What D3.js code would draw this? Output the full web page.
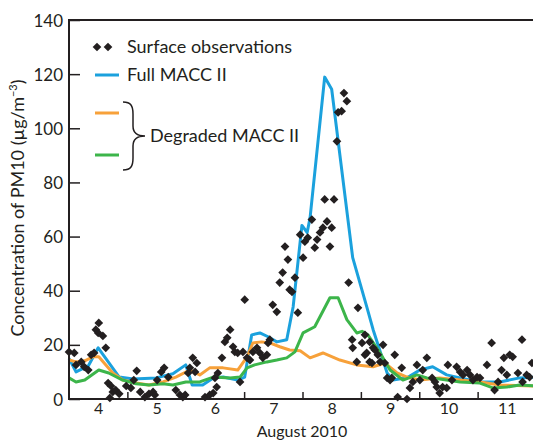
<!DOCTYPE html>
<html>
<head>
<meta charset="utf-8">
<script src="https://cdn.jsdelivr.net/npm/d3@7"></script>
<style>
  body { margin: 0; background: #fff; }
  text { font-family: Lato, "Open Sans", sans-serif; fill: #231f20; }
</style>
</head>
<body>
<script>
// observations: [day of August, PM10]
var obs = [
  [3.50,17.4],[3.59,17.0],[3.62,12.6],[3.71,13.7],[3.76,11.9],[3.83,10.7],[3.88,16.3],[3.93,17.0],
  [3.96,25.6],[4.01,28.1],[4.00,24.4],[4.08,23.3],[4.13,18.9],[4.17,5.9],[4.22,4.8],[4.25,2.6],
  [4.20,0.4],[4.30,3.3],[4.36,1.9],[4.48,4.8],[4.56,4.1],[4.61,7.0],[4.66,10.4],[4.72,2.6],
  [4.80,0.7],[4.87,1.9],[4.94,2.6],[4.97,1.5],[5.01,7.0],[5.08,10.0],[5.13,11.5],[5.20,8.1],
  [5.33,3.3],[5.40,1.5],[5.45,0.7],[5.49,1.5],[5.54,9.6],[5.57,11.5],[5.62,15.2],[5.69,13.3],
  [5.66,10.0],[5.83,0.7],[5.91,1.5],[5.97,2.2],[6.00,7.8],[6.03,4.4],[6.05,9.6],[6.12,15.2],
  [6.17,21.1],[6.21,22.6],[6.26,25.6],[6.31,19.3],[6.34,17.4],[6.39,17.0],[6.43,6.3],[6.48,17.4],
  [6.51,36.7],[6.55,15.2],[6.60,14.4],[6.65,17.4],[6.72,18.9],[6.77,17.0],[6.82,15.2],[6.89,16.3],
  [6.91,20.7],[6.94,21.9],[6.99,34.8],[7.06,32.2],[7.11,43.0],[7.16,46.7],[7.20,56.3],[7.25,51.5],
  [7.28,40.4],[7.32,39.6],[7.37,44.8],[7.42,31.9],[7.46,60.7],[7.51,52.2],[7.54,58.1],[7.59,59.6],
  [7.66,66.3],[7.71,55.9],[7.75,58.9],[7.80,61.5],[7.85,63.3],[7.92,65.6],[8.00,63.3],[7.97,56.3],
  [7.88,73.7],[8.04,73.7],[8.09,95.2],[8.11,105.9],[8.17,106.3],[8.21,113.0],[8.26,110.0],[8.29,43.0],
  [8.45,33.7],[8.35,21.9],[8.36,18.9],[8.43,13.7],[8.52,20.7],[8.57,23.7],[8.65,21.1],[8.71,18.9],
  [8.57,16.3],[8.60,17.0],[8.65,13.7],[8.69,13.3],[8.74,18.1],[8.79,16.3],[8.88,20.0],[8.83,13.7],
  [8.91,13.3],[8.95,7.8],[9.00,7.0],[9.03,7.8],[9.08,16.3],[9.13,0.7],[9.20,11.5],[9.29,0.0],
  [9.34,4.1],[9.39,6.3],[9.46,12.6],[9.51,7.0],[9.56,10.7],[9.63,15.2],[9.72,7.8],[9.77,6.3],
  [9.80,4.4],[9.85,2.2],[9.90,4.4],[9.97,4.1],[9.99,12.6],[10.06,7.0],[10.14,11.9],[10.20,10.0],
  [10.25,8.9],[10.32,10.7],[10.37,8.9],[10.42,7.0],[10.49,8.1],[10.54,7.8],[10.66,12.6],[10.74,20.7],
  [10.79,3.3],[10.85,6.3],[10.91,10.7],[10.95,15.2],[11.00,8.9],[11.05,16.3],[11.10,15.6],[11.19,9.6],
  [11.26,21.9],[11.27,6.3],[11.34,8.9],[11.39,8.1],[11.43,13.3]
];

var fullMacc = [
  [3.50,15.0],[3.62,10.0],[3.83,12.2],[4.00,18.9],[4.36,8.1],[4.60,7.4],[4.99,7.8],[5.28,9.3],
  [5.50,12.6],[5.61,5.2],[5.79,5.2],[5.97,7.8],[6.14,8.1],[6.39,7.0],[6.51,8.1],[6.63,23.7],
  [6.77,24.4],[6.91,23.0],[7.06,21.1],[7.23,21.9],[7.34,34.1],[7.49,64.1],[7.58,61.5],[7.63,67.0],
  [7.88,118.9],[8.00,114.4],[8.36,52.2],[8.60,34.1],[8.71,25.6],[8.95,9.6],[9.05,7.0],[9.29,7.8],
  [9.51,10.7],[9.73,11.9],[9.97,8.9],[10.20,7.8],[10.54,6.3],[10.88,6.3],[11.22,7.8],[11.50,8.1]
];

var degradedA = [
  [3.50,14.4],[3.62,13.7],[3.77,14.1],[3.91,15.6],[4.01,15.6],[4.25,9.6],[4.42,7.0],[4.65,5.9],
  [4.87,5.2],[5.11,6.3],[5.33,8.1],[5.57,10.7],[5.74,8.9],[5.91,11.5],[6.14,11.5],[6.39,10.7],
  [6.55,15.6],[6.65,20.7],[6.80,21.1],[6.94,20.7],[7.11,19.3],[7.28,18.1],[7.46,17.8],[7.63,15.2],
  [7.85,17.0],[8.14,14.4],[8.43,12.6],[8.71,11.9],[8.91,13.3],[9.12,9.6],[9.29,8.1],[9.51,7.0],
  [9.85,7.8],[10.20,7.0],[10.54,6.3],[10.88,5.2],[11.50,4.8]
];

var degradedB = [
  [3.50,7.8],[3.62,6.3],[3.77,7.0],[4.01,10.7],[4.18,9.6],[4.42,7.0],[4.65,5.6],[4.87,5.2],
  [5.11,5.6],[5.28,5.2],[5.50,6.3],[5.74,6.3],[5.97,8.1],[6.26,7.8],[6.43,8.1],[6.55,11.5],
  [6.68,12.6],[6.89,13.7],[7.06,14.4],[7.23,15.2],[7.37,17.4],[7.51,24.4],[7.71,26.7],[7.97,37.4],
  [8.11,37.4],[8.26,29.3],[8.43,24.4],[8.52,25.0],[8.62,23.7],[8.83,17.0],[9.00,10.7],[9.22,7.0],
  [9.46,8.9],[9.63,7.8],[9.85,7.4],[10.20,6.3],[10.54,5.9],[10.76,4.1],[11.00,4.4],[11.22,5.2],
  [11.50,4.8]
];

var dayLabels = [4, 5, 6, 7, 8, 9, 10, 11];
var dayTicks = [4.5, 5.5, 6.5, 7.5, 8.5, 9.5, 10.5];
var yTicks = [0, 20, 40, 60, 80, 100, 120, 140];

var W = 533, H = 441;
var M = { left: 69, right: -3, top: 20, bottom: 42 };

var svg = d3.select("body").append("svg")
    .attr("width", W)
    .attr("height", H);

var x = d3.scaleLinear().domain([3.5, 11.5]).range([M.left, W - M.right]);
var y = d3.scaleLinear().domain([0, 140]).range([H - M.bottom, M.top]);

var clr = { full: "#1ba1dd", degA: "#f7a13a", degB: "#3cb54a", ink: "#231f20" };

var line = d3.line()
    .x(function(d) { return x(d[0]); })
    .y(function(d) { return y(d[1]); });

var plot = svg.append("g");

[[fullMacc, clr.full], [degradedA, clr.degA], [degradedB, clr.degB]].forEach(function(s) {
    plot.append("path")
        .datum(s[0])
        .attr("d", line)
        .attr("fill", "none")
        .attr("stroke", s[1])
        .attr("stroke-width", 3)
        .attr("stroke-linejoin", "round");
});

var diamond = d3.symbol().type(d3.symbolSquare).size(38);

plot.selectAll("path.obs")
    .data(obs)
    .enter()
    .append("path")
    .attr("class", "obs")
    .attr("d", diamond)
    .attr("transform", function(d) {
        return "translate(" + x(d[0]) + "," + y(d[1]) + ") rotate(45)";
    })
    .attr("fill", clr.ink);

// axes
var xTickAxis = svg.append("g")
    .attr("transform", "translate(0," + y(0) + ")")
    .call(d3.axisBottom(x).tickValues(dayTicks).tickSize(-7).tickFormat(""));

var xLabAxis = svg.append("g")
    .attr("transform", "translate(0," + y(0) + ")")
    .call(d3.axisBottom(x).tickValues(dayLabels).tickSize(0).tickPadding(4).tickFormat(d3.format("d")));

var yAxis = svg.append("g")
    .attr("transform", "translate(" + M.left + ",0)")
    .call(d3.axisLeft(y).tickValues(yTicks).tickSize(-11).tickPadding(6));

[xTickAxis, xLabAxis, yAxis].forEach(function(a) {
    a.select(".domain").remove();
    a.selectAll("line").attr("stroke", clr.ink).attr("stroke-width", 1.5);
    a.selectAll("text").style("font-size", "17px").attr("fill", clr.ink);
});
xLabAxis.selectAll("text").style("font-size", "16px");
yAxis.selectAll("text").attr("dy", "0.36em");

// frame: left, bottom, top
svg.append("path")
    .attr("d", "M" + W + "," + y(140) + "H" + M.left + "V" + y(0) + "H" + W)
    .attr("fill", "none")
    .attr("stroke", clr.ink)
    .attr("stroke-width", 2);

svg.append("text")
    .attr("x", (M.left + W) / 2 + 1)
    .attr("y", 437)
    .attr("text-anchor", "middle")
    .style("font-size", "16px")
    .text("August 2010");

var yt = svg.append("text")
    .attr("transform", "translate(24,208) rotate(-90)")
    .attr("text-anchor", "middle")
    .style("font-size", "18px");
yt.append("tspan").text("Concentration of PM10 (\u00b5g/m");
yt.append("tspan").attr("dy", -7).style("font-size", "11px").text("\u22123");
yt.append("tspan").attr("dy", 7).text(")");

// legend
var lg = svg.append("g");
[97, 108].forEach(function(cx) {
    lg.append("path").attr("d", diamond).attr("fill", clr.ink)
        .attr("transform", "translate(" + cx + ",47) rotate(45)");
});
lg.append("text").attr("x", 127).attr("y", 53).style("font-size", "18px").text("Surface observations");

[[75, clr.full], [113, clr.degA], [155, clr.degB]].forEach(function(r) {
    lg.append("line").attr("x1", 95).attr("x2", 119).attr("y1", r[0]).attr("y2", r[0])
        .attr("stroke", r[1]).attr("stroke-width", 3);
});
lg.append("text").attr("x", 127).attr("y", 81).style("font-size", "18px").text("Full MACC II");

// curly brace
lg.append("path")
    .attr("d", "M123,102 C131,102 133,106 133,114 L133,126 C133,133 137,136 145,136 " +
               "C137,136 133,139 133,146 L133,158 C133,166 131,170 123,170")
    .attr("fill", "none")
    .attr("stroke", clr.ink)
    .attr("stroke-width", 1.5);
lg.append("text").attr("x", 150).attr("y", 142).style("font-size", "18px").text("Degraded MACC II");
</script>
</body>
</html>
